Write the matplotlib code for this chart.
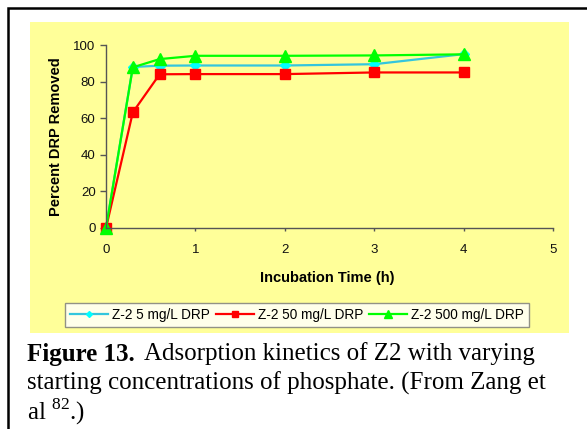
import matplotlib.pyplot as plt
from matplotlib.patches import Rectangle

plt.rcParams['font.family'] = 'Liberation Sans'
plt.rcParams['mathtext.fontset'] = 'custom'
plt.rcParams['mathtext.rm'] = 'Liberation Serif'

# data
hours = [0, 0.3, 0.6, 1, 2, 3, 4]
drp_5 = [0, 88, 88.7, 88.8, 88.8, 89.5, 95]
drp_50 = [0, 63.2, 84, 84.1, 84.1, 85, 85]
drp_500 = [0, 87.8, 92.3, 94.1, 94.1, 94.3, 94.9]
labels = ['Z-2 5 mg/L DRP', 'Z-2 50 mg/L DRP', 'Z-2 500 mg/L DRP']

yellow = '#ffff99'

fig = plt.figure(figsize=(5.87, 4.29), dpi=100)

# outer frame and yellow chart area
fig.patches.append(Rectangle((8 / 587, -0.1), 1.2, 1 - 8 / 429 + 0.1, transform=fig.transFigure,
                             fill=False, edgecolor='black', linewidth=1.8, zorder=-2))
fig.patches.append(Rectangle((30 / 587, 1 - 333 / 429), 539 / 587, 311 / 429, transform=fig.transFigure,
                             facecolor=yellow, edgecolor='none', zorder=-1))

ax = fig.add_axes([106 / 587, 1 - 228 / 429, 447 / 587, 183 / 429])
ax.patch.set_alpha(0)

ax.plot(hours, drp_5, color='#33c6dd', marker='D', markersize=5, markerfacecolor='#00ffff',
        markeredgecolor='#00ffff', linewidth=1.6, label=labels[0], clip_on=False)
ax.plot(hours, drp_50, color='#ff0000', marker='s', markersize=7.5, linewidth=1.6,
        label=labels[1], clip_on=False)
ax.plot(hours, drp_500, color='#00ff00', marker='^', markersize=8.5, linewidth=1.6,
        label=labels[2], clip_on=False)

ax.set_xlim(0, 5)
ax.set_ylim(0, 100)
ax.set_xticks(range(6))
ax.set_yticks(range(0, 101, 20))
for s in ['top', 'right']:
    ax.spines[s].set_visible(False)
for s in ['left', 'bottom']:
    ax.spines[s].set_color('#555555')
    ax.spines[s].set_linewidth(1)
ax.tick_params(colors='#555555', labelcolor='#111111', labelsize=9.5, width=1)
ax.tick_params(axis='y', length=4, pad=3.5)
ax.tick_params(axis='x', length=2.5, pad=9)
ax.set_xlabel('Incubation Time (h)', fontsize=10.5, fontweight='bold')
ax.set_ylabel('Percent DRP Removed', fontsize=10.5, fontweight='bold')
ax.xaxis.set_label_coords(0.495, -0.233)
ax.yaxis.set_label_coords(-0.097, 0.5)

leg = fig.legend(loc='center', bbox_to_anchor=(297 / 587, 1 - 315 / 429), ncol=3, fontsize=9.8,
                 frameon=True, fancybox=False, handlelength=2.8, handletextpad=0.3,
                 columnspacing=0.4, borderpad=0.35, markerscale=0.6)
leg.get_frame().set_edgecolor('#777777')
leg.get_frame().set_linewidth(1)

# caption
cap_x = 27 / 587
fs = 18
fig.canvas.draw()
r = fig.canvas.get_renderer()
t1 = fig.text(cap_x, 1 - 354 / 429, 'Figure 13.', family='Liberation Serif', fontweight='bold',
              fontsize=fs, va='center')
w = t1.get_window_extent(r).width
fig.text(cap_x + (w + 9) / 587, 1 - 354 / 429, 'Adsorption kinetics of Z2 with varying',
         family='Liberation Serif', fontsize=fs, va='center')
fig.text(cap_x, 1 - 383 / 429, 'starting concentrations of phosphate. (From Zang et',
         family='Liberation Serif', fontsize=fs, va='center')
fig.text(cap_x, 1 - 412 / 429, 'al $^{82}$.)', family='Liberation Serif', fontsize=fs, va='center')

fig.savefig('out.png', dpi=100)
